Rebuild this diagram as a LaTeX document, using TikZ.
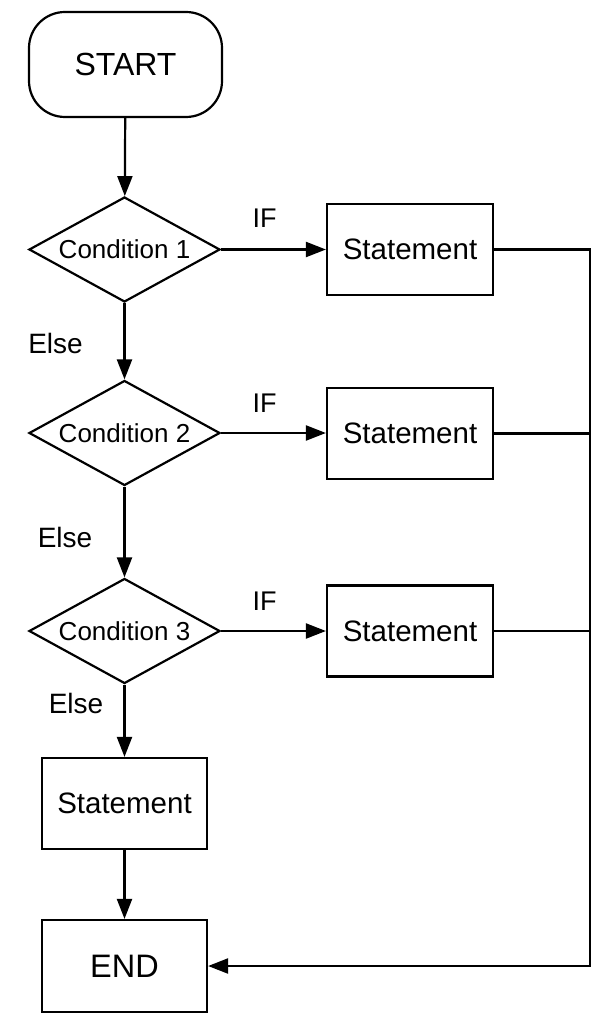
\documentclass[tikz,border=0pt]{standalone}
\usepackage{fontspec}
\setmainfont{Liberation Sans}
\usetikzlibrary{shapes.geometric,arrows.meta}
\tikzset{
  base/.style={draw=black, line width=2.2pt, inner sep=0pt, fill=white},
  terminal/.style={base, rounded corners=36pt, minimum width=193pt, minimum height=105pt, font=\fontsize{32}{36}\selectfont},
  decision/.style={base, diamond, aspect=1.82, minimum width=191pt, minimum height=105pt, font=\fontsize{26}{30}\selectfont},
  process/.style={base, rectangle, minimum width=166pt, minimum height=91pt, font=\fontsize{29.5}{33}\selectfont},
  endbox/.style={base, rectangle, minimum width=165pt, minimum height=92pt, font=\fontsize{32.5}{36}\selectfont},
  lbl/.style={inner sep=0pt, anchor=base, font=\fontsize{27}{30}\selectfont},
  elbl/.style={inner sep=0pt, anchor=base, font=\fontsize{28}{32}\selectfont},
  conn/.style={line width=2.2pt, draw=black},
  arr/.style={conn, -{Triangle[length=20pt,width=15pt]}}
}
\begin{document}
\begin{tikzpicture}[x=1pt,y=-1pt]
\useasboundingbox (0,0) rectangle (601,1024);
\node[terminal] (start) at (125.5,64.5) {START};
\node[decision] (c1) at (124.5,249.5) {Condition 1};
\node[decision] (c2) at (124.5,433) {Condition 2};
\node[decision] (c3) at (124.5,631) {Condition 3};
\node[process] (s1) at (410,249.5) {Statement};
\node[process] (s2) at (410,433.5) {Statement};
\node[process] (s3) at (410,631) {Statement};
\node[process, minimum width=165pt] (s4) at (124.5,803.5) {Statement};
\node[endbox] (end) at (124.5,966) {END};
\coordinate (rx) at (590,0);

\node[lbl] (if1) at (264.5,228) {IF};
\node[lbl] (if2) at (264.5,412) {IF};
\node[lbl] (if3) at (264.5,610) {IF};
\node[elbl] (e1) at (55.5,353) {Else};
\node[elbl] (e2) at (65,547) {Else};
\node[elbl] (e3) at (76,713) {Else};

\draw[arr] (start) -- (c1);
\draw[arr] (c1) -- (c2);
\draw[arr] (c2) -- (c3);
\draw[arr] (c3) -- (s4);
\draw[arr] (s4) -- (end);
\draw[arr] (c1.east) -- (s1.west);
\draw[arr] (c2.east) -- (s2.west |- c2.east);
\draw[arr] (c3.east) -- (s3.west);
\draw[arr] (s1.east) -- (s1.east -| rx) |- (end.east);
\draw[conn] (s2.east) -- (s2.east -| rx);
\draw[conn] (s3.east) -- (s3.east -| rx);
\end{tikzpicture}
\end{document}
